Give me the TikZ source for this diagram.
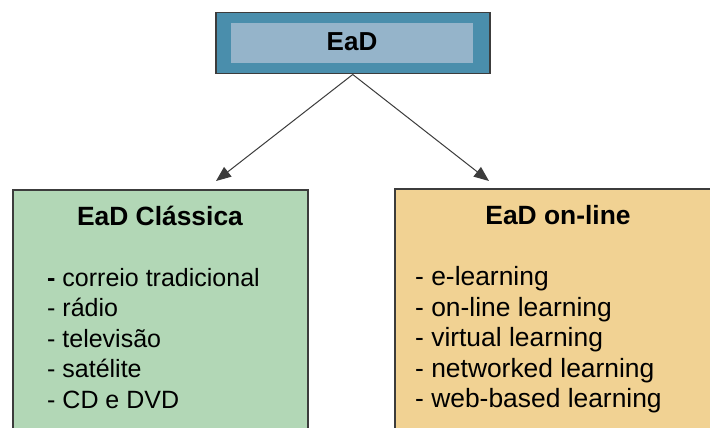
\documentclass[tikz,border=0pt]{standalone}
\usepackage{fontspec}
\setmainfont{Liberation Sans}
\usetikzlibrary{arrows.meta}
\definecolor{topouter}{HTML}{4A8EAC}
\definecolor{topinner}{HTML}{95B4CA}
\definecolor{greenfill}{HTML}{B2D7B6}
\definecolor{orangefill}{HTML}{F1D293}
\definecolor{edge}{HTML}{3C3C3C}
\tikzset{
  box/.style={draw=edge, line width=1.5pt, inner sep=0pt, anchor=north west},
  title/.style={font=\fontsize{26.4}{30}\selectfont\bfseries, inner sep=0pt, anchor=base},
  listtext/.style={inner sep=0pt, anchor=base west, align=left},
  conn/.style={draw=edge, line width=1pt, -{Triangle[length=15pt,width=12pt]}}
}
\begin{document}
\begin{tikzpicture}[x=1pt,y=-1pt]
\useasboundingbox (0,0) rectangle (710,428);
\clip (0,0) rectangle (710,428);
\fill[white] (0,0) rectangle (710,428);
% top box
\node[box, fill=topouter, minimum width=274pt, minimum height=61pt] (top) at (215,12) {};
\node[fill=topinner, inner sep=0pt, minimum width=242pt, minimum height=39.5pt, anchor=north west] (topin) at (231,23) {};
\node[title, font=\fontsize{26}{30}\selectfont\bfseries] (ead) at (352,51) {EaD};
% bottom boxes
\node[box, fill=greenfill, minimum width=295pt, minimum height=260pt] (cl) at (12,189) {};
\node[box, fill=orangefill, minimum width=330pt, minimum height=260pt] (ol) at (394,188) {};
% titles
\node[title] (clt) at (160,225) {EaD Clássica};
\node[title] (olt) at (558,224) {EaD on-line};
% lists
\node[listtext, font=\fontsize{25}{30.5}\selectfont] (cll) at (47,408) {\textbf{-} correio tradicional\\- rádio\\- televisão\\- satélite\\- CD e DVD};
\node[listtext, font=\fontsize{26.4}{30.5}\selectfont] (oll) at (415,407.5) {- e-learning\\- on-line learning\\- virtual learning\\- networked learning\\- web-based learning};
% connectors
\coordinate (la) at (216,181);
\coordinate (ra) at (489,181);
\draw[conn] (top.south) -- (la);
\draw[conn] (top.south) -- (ra);
\end{tikzpicture}
\end{document}
